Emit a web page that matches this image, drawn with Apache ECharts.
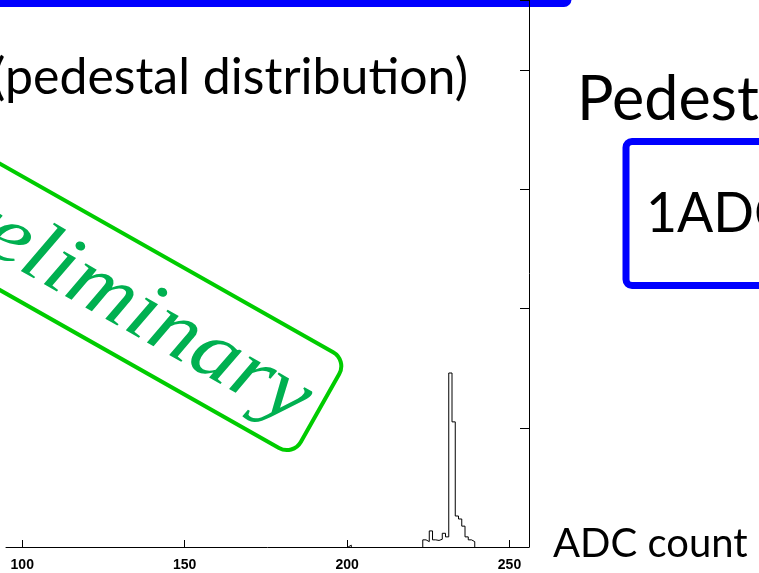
<!DOCTYPE html>
<html>
<head>
<meta charset="utf-8">
<title>Pedestal distribution</title>
<script src="https://cdn.jsdelivr.net/npm/echarts@6/dist/echarts.min.js"></script>
<style>
  html, body { margin: 0; padding: 0; background: #fff; }
  #chart { width: 759px; height: 573px; }
</style>
</head>
<body>
<div id="chart"></div>
<script>
// histogram bins: left edge (ADC count) and entries
const binEdges = [200.3, 223.3, 224.3, 225.3, 226.3, 227.3, 228.3, 229.3, 230.3,
                  231.3, 232.3, 233.3, 234.3, 235.3, 236.3, 237.3, 238.3];
const binCounts = [3, 12, 9, 27, 12, 11, 13, 23, 17,
                   292, 210, 52, 47, 35, 17, 12, 9];
const binWidth = 1;
const xTicks = [100, 150, 200, 250];

// split the bins into contiguous runs, each drawn as its own step outline
function stepRuns() {
  const runs = [];
  let pts = null;
  for (let i = 0; i < binEdges.length; i++) {
    const prevEnd = i > 0 ? binEdges[i - 1] + binWidth : null;
    if (prevEnd === null || Math.abs(prevEnd - binEdges[i]) > 1e-6) {
      if (pts) { pts.push([prevEnd, 0]); runs.push(pts); }
      pts = [[binEdges[i], 0]];
    }
    pts.push([binEdges[i], binCounts[i]]);
  }
  pts.push([binEdges[binEdges.length - 1] + binWidth, 0]);
  runs.push(pts);
  return runs;
}

const chart = echarts.init(document.getElementById('chart'));
const slideFont = 'Lato';

chart.setOption({
  animation: false,
  backgroundColor: '#fff',
  grid: { left: 6, right: 230, top: 0, bottom: 26 },
  xAxis: {
    type: 'value',
    min: 95,
    max: 256,
    axisLine: { lineStyle: { color: '#000', width: 1 } },
    axisTick: { inside: true, length: 7, customValues: xTicks, lineStyle: { color: '#000' } },
    axisLabel: {
      customValues: xTicks,
      color: '#000',
      fontFamily: 'Liberation Sans',
      fontWeight: 'bold',
      fontSize: 14,
      margin: 11
    },
    splitLine: { show: false }
  },
  yAxis: {
    type: 'value',
    position: 'right',
    min: 0,
    max: 918,
    interval: 200,
    axisLine: { show: true, lineStyle: { color: '#000', width: 1 } },
    axisTick: { show: true, inside: true, length: 9, lineStyle: { color: '#000' } },
    axisLabel: { show: false },
    splitLine: { show: false }
  },
  series: stepRuns().map(run => ({
    type: 'line',
    step: 'end',
    data: run,
    symbol: 'none',
    silent: true,
    lineStyle: { color: '#000', width: 1 }
  })),
  graphic: [
    // bottom of the blue frame above the plot
    {
      type: 'rect',
      shape: { x: -20, y: -200, width: 588, height: 203.5, r: 4 },
      style: { fill: 'none', stroke: '#0000ff', lineWidth: 7 }
    },
    {
      type: 'text',
      style: {
        text: '(pedestal distribution)', x: 468, y: 78,
        align: 'right', verticalAlign: 'middle',
        font: '50px ' + slideFont, fill: '#000'
      }
    },
    {
      type: 'text',
      style: {
        text: 'Pedestal', x: 577, y: 100,
        align: 'left', verticalAlign: 'middle',
        font: '61px ' + slideFont, fill: '#000'
      }
    },
    {
      type: 'rect',
      shape: { x: 626, y: 141.5, width: 300, height: 144, r: 6 },
      style: { fill: 'none', stroke: '#0000ff', lineWidth: 7 }
    },
    {
      type: 'text',
      x: 646,
      y: 214,
      scaleX: 0.94,
      style: {
        text: '1ADC', x: 0, y: 0,
        align: 'left', verticalAlign: 'middle',
        font: '57px ' + slideFont, fill: '#000'
      }
    },
    {
      type: 'text',
      style: {
        text: 'ADC count', x: 553, y: 544,
        align: 'left', verticalAlign: 'middle',
        font: '40px ' + slideFont, fill: '#000'
      }
    },
    // "Preliminary" stamp
    {
      type: 'group',
      x: 320,
      y: 408,
      rotation: -29.5 * Math.PI / 180,
      children: [
        {
          type: 'rect',
          shape: { x: -700, y: -55, width: 700, height: 110, r: 16 },
          style: { fill: 'none', stroke: '#00cc00', lineWidth: 4 }
        },
        {
          type: 'text',
          x: -14,
          y: 6,
          scaleX: 1.12,
          style: {
            text: 'Preliminary', x: 0, y: 0,
            align: 'right', verticalAlign: 'middle',
            font: 'italic 84px "Liberation Serif"', fill: '#00b050'
          }
        }
      ]
    }
  ]
});
</script>
</body>
</html>
